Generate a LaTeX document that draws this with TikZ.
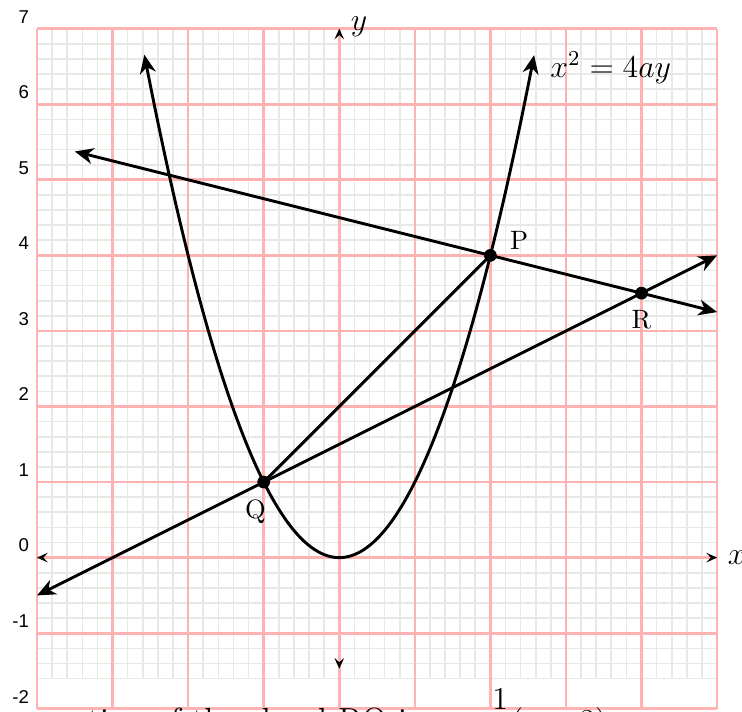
\documentclass[tikz,border=0pt]{standalone}
\usepackage{fontspec}
\newfontfamily\labfont{Liberation Sans}
\usetikzlibrary{arrows.meta}
\definecolor{gridpink}{RGB}{255,178,178}
\definecolor{gridgray}{RGB}{230,234,230}
\begin{document}
\begin{tikzpicture}[
  curve/.style={line width=1.1pt, black},
  bigtips/.style={{Stealth[length=7pt,width=6pt,inset=2.2pt]}-{Stealth[length=7pt,width=6pt,inset=2.2pt]}},
  axistips/.style={{Stealth[length=4pt,width=3.6pt,inset=1.6pt,black]}-{Stealth[length=4pt,width=3.6pt,inset=1.6pt,black]}},
  dot/.style={circle, fill=black, inner sep=0pt, minimum size=4.8pt},
  ticklab/.style={font=\labfont\fontsize{7}{8}\selectfont, anchor=east, inner sep=0pt},
  biglab/.style={font=\large},
]
\useasboundingbox (-4.49,-2.04) rectangle (5.33,7.38);
% grids
\draw[gridgray, line width=0.6pt, step=0.2] (-4,-1.6) grid (5,7);
\draw[gridpink, line width=1pt, step=1] (-4,-2) grid (5,7);
% axes
\coordinate (xl) at (-4,0);
\coordinate (xr) at (5,0);
\coordinate (yb) at (0,-1.47);
\coordinate (yt) at (0,7);
\draw[gridpink, line width=1pt, axistips] (xl) -- (xr);
\draw[gridpink, line width=1pt, axistips] (yb) -- (yt);
\node[biglab, anchor=west] (xlab) at (5.02,0) {$x$};
\node[biglab, anchor=base west] (ylab) at (0.03,6.98) {$y$};
% tick labels
\foreach \v in {-2,...,7} {
  \node[ticklab] (t\v) at (-4.1,{\v+0.16}) {\v};
}
% parabola
\draw[curve, bigtips] plot[domain=-2.58:2.58, samples=120, smooth] (\x,{\x*\x});
\node[biglab, anchor=base west] (eq) at (2.67,6.36) {$x^2=4ay$};
% points
\coordinate (P) at (2,4);
\coordinate (Q) at (-1,1);
\coordinate (R) at (4,3.5);
\coordinate (N1) at (-3.5,5.375);
\coordinate (N2) at (5,3.25);
\coordinate (C1) at (-4,-0.5);
\coordinate (C2) at (5,4);
\draw[curve, bigtips] (N1) -- (N2);
\draw[curve, bigtips] (C1) -- (C2);
\draw[curve] (Q) -- (P);
\node[dot] (Pd) at (P) {};
\node[dot] (Qd) at (Q) {};
\node[dot] (Rd) at (R) {};
\node (Pl) at (2.38,4.2) {P};
\node (Ql) at (-1.11,0.61) {Q};
\node (Rl) at (4,3.15) {R};
% cut-off caption
\node[font=\fontsize{12.6}{15}\selectfont, anchor=base east] (cap) at (3.67,-2.3) {The equation of the chord RQ is $y=\displaystyle\frac{1}{2}(x+3)$};
\end{tikzpicture}
\end{document}
